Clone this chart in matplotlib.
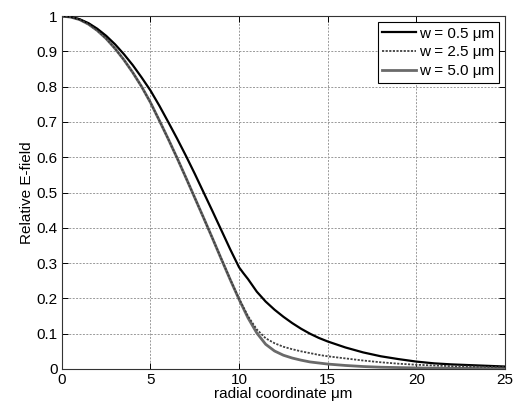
import matplotlib
matplotlib.use("Agg")
import matplotlib.pyplot as plt

plt.rcParams['font.family'] = ['Liberation Sans', 'DejaVu Sans']

# w = 0.5 um
x_a = [0, 0.5, 1, 1.5, 2, 2.5, 3, 3.5, 4, 4.5, 5, 5.5, 6, 6.5, 7, 7.5, 8, 8.5, 9, 9.5, 10,
       10.25, 10.5, 11, 11.5, 12, 12.5, 13, 13.5, 14, 14.5, 15, 16, 17, 18, 19, 20, 21, 22, 23, 24, 25]
y_a = [1.0, 0.998, 0.991, 0.980, 0.964, 0.944, 0.920, 0.892, 0.861, 0.826, 0.789, 0.746, 0.700, 0.653,
       0.604, 0.553, 0.500, 0.447, 0.393, 0.339, 0.288,
       0.271, 0.255, 0.219, 0.191, 0.168, 0.148, 0.13, 0.114, 0.1, 0.088, 0.078, 0.061, 0.047, 0.036,
       0.028, 0.021, 0.016, 0.013, 0.011, 0.009, 0.007]

# w = 2.5 um
x_b = [0, 0.5, 1, 1.5, 2, 2.5, 3, 3.5, 4, 4.5, 5, 5.5, 6, 6.5, 7, 7.5, 8, 8.5, 9, 9.5, 10,
       10.5, 11, 11.5, 12, 12.5, 13, 13.5, 14, 14.5, 15, 16, 17, 18, 19, 20, 22, 25]
y_b = [1.0, 0.997, 0.99, 0.977, 0.959, 0.936, 0.908, 0.876, 0.84, 0.80, 0.755, 0.704, 0.652, 0.598,
       0.542, 0.485, 0.428, 0.37, 0.312, 0.254, 0.199,
       0.15, 0.112, 0.087, 0.073, 0.063, 0.056, 0.05, 0.045, 0.04, 0.036, 0.03, 0.024, 0.019, 0.015,
       0.012, 0.008, 0.005]

# w = 5.0 um
x_c = [0, 0.5, 1, 1.5, 2, 2.5, 3, 3.5, 4, 4.5, 5, 5.5, 6, 6.5, 7, 7.5, 8, 8.5, 9, 9.5, 10,
       10.5, 11, 11.5, 12, 12.5, 13, 13.5, 14, 15, 16, 17, 18, 20, 22, 25]
y_c = [1.0, 0.997, 0.99, 0.977, 0.959, 0.936, 0.908, 0.876, 0.84, 0.80, 0.755, 0.704, 0.652, 0.598,
       0.542, 0.485, 0.428, 0.37, 0.311, 0.253, 0.197,
       0.145, 0.102, 0.07, 0.051, 0.039, 0.031, 0.025, 0.02, 0.014, 0.01, 0.007, 0.005, 0.003, 0.002, 0.001]

labels = ['w = 0.5 μm', 'w = 2.5 μm', 'w = 5.0 μm']
x_ticks = [0, 5, 10, 15, 20, 25]
y_ticks = [0, 0.1, 0.2, 0.3, 0.4, 0.5, 0.6, 0.7, 0.8, 0.9, 1]
y_ticklabels = ['0', '0.1', '0.2', '0.3', '0.4', '0.5', '0.6', '0.7', '0.8', '0.9', '1']

fig = plt.figure(figsize=(5.2, 4.08), dpi=100)
ax = fig.add_axes([0.119, 0.0956, 0.852, 0.865])

ax.plot(x_a, y_a, color='black', lw=1.6, label=labels[0], zorder=4)
ax.plot(x_c, y_c, color='#6a6a6a', lw=2.0, label=labels[2], zorder=3)
ax.plot(x_b, y_b, color='#404040', lw=1.3, linestyle=(0, (1.2, 0.8)), label=labels[1], zorder=5)

ax.set_xlim(0, 25)
ax.set_ylim(0, 1)
ax.set_xticks(x_ticks)
ax.set_yticks(y_ticks)
ax.set_yticklabels(y_ticklabels)
ax.tick_params(direction='in', top=True, right=True, labelsize=11, length=4, width=0.7, pad=3)
ax.grid(True, color='#999999', linestyle=(0, (2, 1.5)), lw=0.7)
for s in ax.spines.values():
    s.set_linewidth(0.8)
    s.set_color('#333333')

ax.set_xlabel('radial coordinate μm', fontsize=11, labelpad=0)
ax.set_ylabel('Relative E-field', fontsize=11, labelpad=2)

h, l = ax.get_legend_handles_labels()
order = [0, 2, 1]
leg = ax.legend([h[i] for i in order], [l[i] for i in order], loc='upper right',
                fontsize=11, frameon=True, fancybox=False, framealpha=1,
                edgecolor='black', handlelength=2.2, handletextpad=0.2,
                borderpad=0.3, labelspacing=0.3, borderaxespad=0.4)
leg.get_frame().set_linewidth(0.8)

fig.savefig('out.png', dpi=100)
